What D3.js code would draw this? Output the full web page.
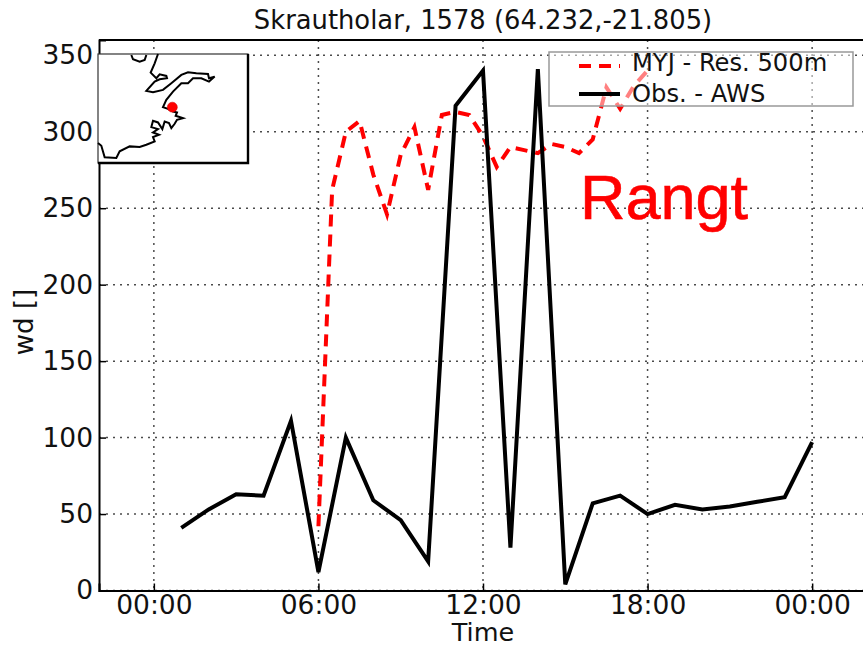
<!DOCTYPE html>
<html>
<head>
<meta charset="utf-8">
<script src="https://d3js.org/d3.v7.min.js"></script>
<style>
  html, body { margin: 0; padding: 0; background: #fff; overflow: hidden; }
  text { font-family: "DejaVu Sans", sans-serif; fill: #111; }
  .grid line { stroke: #000; stroke-width: 1.5; stroke-dasharray: 2 5; opacity: 0.7; }
</style>
</head>
<body>
<div id="graph"></div>
<script>
//************ data ************//
// hours since midnight, observed wind direction
var obsHours = [1,2,3,4,5,6,7,8,9,10,11,12,13,14,15,16,17,18,19,20,21,22,23,24];
var obsValues = [41,53,63,62,111,12,100,59,46,19,317,340,28,341,4,57,62,50,56,53,55,58,61,97];

// model run, half hourly
var modelHours = [6,6.5,7,7.5,8,8.5,9,9.5,10,10.5,11,11.5,12,12.5,13,13.5,14,14.5,15,15.5,16,16.5,17,17.5,18];
var modelValues = [42,262,300,307,272,246,285,303,262,311,313,311,297,277,290,288,286,292,290,286,295,329,315,330,340];

var xTicks = [0,6,12,18,24];
var xTickLabels = ["00:00","06:00","12:00","18:00","00:00"];
var yTicks = [0,50,100,150,200,250,300,350];

// coastline for the little map, in map units
var coastTop = [[100,3],[105,16],[125,23],[140,18],[145,3]];
var coastMain = [[180,0],[170,28],[158,56],[175,73],[185,61],[205,66],[207,73],[185,76],[170,83],[145,111],[165,115],[195,108],[220,88],[250,63],[270,55],[295,58],[330,60],[333,73],[350,68],[333,83],[310,73],[285,73],[270,88],[250,88],[225,113],[205,138],[195,160],[210,165],[225,173],[237,176],[233,186],[255,193],[237,198],[230,210],[220,223],[213,208],[200,203],[193,226],[180,206],[165,201],[160,220],[180,226],[165,236],[183,243],[165,250],[170,263],[145,273],[125,280],[95,278],[65,293],[55,313],[20,311],[10,276],[0,268]];
var station = [223,160];

//************ layout ************//
var width = 863, height = 645;
var margin = {top: 40, left: 99, bottom: 590.5, right: 867};

var svg = d3.select('#graph').append('svg')
    .attr('width', width).attr('height', height)
    .style('display', 'block');

var x = d3.scaleLinear().domain([-2,26]).range([margin.left, margin.right]);
var y = d3.scaleLinear().domain([0,360]).range([margin.bottom, margin.top]);

// grid
var grid = svg.append('g').attr('class', 'grid');
grid.selectAll('.gx').data(xTicks).enter().append('line')
    .attr('x1', function(d) { return x(d); }).attr('x2', function(d) { return x(d); })
    .attr('y1', margin.top).attr('y2', margin.bottom);
grid.selectAll('.gy').data(yTicks).enter().append('line')
    .attr('y1', function(d) { return y(d); }).attr('y2', function(d) { return y(d); })
    .attr('x1', margin.left).attr('x2', margin.right);

// lines
var lineFn = function(xs) {
  return d3.line().x(function(d, i) { return x(xs[i]); }).y(function(d) { return y(d); });
};

svg.append('path').datum(modelValues)
    .attr('d', lineFn(modelHours))
    .attr('fill', 'none').attr('stroke', '#ff0000')
    .attr('stroke-width', 4).attr('stroke-dasharray', '12 8');

svg.append('path').datum(obsValues)
    .attr('d', lineFn(obsHours))
    .attr('fill', 'none').attr('stroke', '#000')
    .attr('stroke-width', 4).attr('stroke-linejoin', 'miter');

// axes
var xAxis = d3.axisBottom(x).tickValues(xTicks)
    .tickFormat(function(d, i) { return xTickLabels[i]; })
    .tickSize(-7).tickPadding(5);
var yAxis = d3.axisLeft(y).tickValues(yTicks).tickSize(-7).tickPadding(6);

var gx = svg.append('g').attr('transform', 'translate(0,' + margin.bottom + ')').call(xAxis);
var gy = svg.append('g').attr('transform', 'translate(' + margin.left + ',0)').call(yAxis);
gx.selectAll('text').style('font-size', '26.5px').attr('fill', '#111');
gy.selectAll('text').style('font-size', '26.5px').attr('fill', '#111');
gx.selectAll('line').attr('stroke-width', 1.5);
gy.selectAll('line').attr('stroke-width', 1.5);
gx.select('.domain').attr('stroke-width', 2);
gy.select('.domain').attr('stroke-width', 2);

// top spine
svg.append('line').attr('x1', margin.left).attr('x2', margin.right)
    .attr('y1', margin.top).attr('y2', margin.top)
    .attr('stroke', '#000').attr('stroke-width', 2);

// titles
svg.append('text').attr('x', 483).attr('y', 29).attr('text-anchor', 'middle')
    .style('font-size', '25.8px').text('Skrautholar, 1578 (64.232,-21.805)');
svg.append('text').attr('x', 483).attr('y', 641).attr('text-anchor', 'middle')
    .style('font-size', '25.5px').text('Time');
svg.append('text').attr('transform', 'translate(33,322) rotate(-90)').attr('text-anchor', 'middle')
    .style('font-size', '26px').text('wd []');

// legend - half see through, the lines show under it
var legend = svg.append('g');
legend.append('rect').attr('x', 549).attr('y', 52).attr('width', 304).attr('height', 54)
    .attr('fill', '#fff').attr('fill-opacity', 0.5).attr('stroke', '#999').attr('stroke-width', 1.5);
legend.append('line').attr('x1', 579).attr('x2', 620).attr('y1', 66).attr('y2', 66)
    .attr('stroke', '#ff0000').attr('stroke-width', 4).attr('stroke-dasharray', '12 8');
legend.append('line').attr('x1', 579).attr('x2', 620).attr('y1', 94).attr('y2', 94)
    .attr('stroke', '#000').attr('stroke-width', 4);
legend.append('text').attr('x', 632).attr('y', 71).style('font-size', '24.2px').text('MYJ - Res. 500m');
legend.append('text').attr('x', 632).attr('y', 102).style('font-size', '24.2px').text('Obs. - AWS');

// stamp over the chart
svg.append('text').attr('x', 580).attr('y', 219)
    .style('font-family', '"Liberation Sans", Arial, sans-serif')
    .style('font-size', '63px').style('fill', '#ff0000')
    .style('stroke', '#ff0000').style('stroke-width', 0.6).text('Rangt');

// little map
var mapX = d3.scaleLinear().domain([0,450]).range([98,248]);
var mapY = d3.scaleLinear().domain([0,328]).range([54,163]);
var coastLine = d3.line().x(function(d) { return mapX(d[0]); }).y(function(d) { return mapY(d[1]); });

var map = svg.append('g');
map.append('rect').attr('x', mapX(0)).attr('y', mapY(0))
    .attr('width', mapX(450) - mapX(0)).attr('height', mapY(328) - mapY(0))
    .attr('fill', '#fff').attr('stroke', '#333').attr('stroke-width', 1.2);
map.append('path').attr('d', 'M' + mapX(450) + ',' + mapY(0) + 'V' + mapY(328) + 'H' + mapX(0))
    .attr('fill', 'none').attr('stroke', '#000').attr('stroke-width', 2.4);
[coastTop, coastMain].forEach(function(c) {
  map.append('path').attr('d', coastLine(c))
      .attr('fill', 'none').attr('stroke', '#000').attr('stroke-width', 2);
});
map.append('circle').attr('cx', mapX(station[0])).attr('cy', mapY(station[1])).attr('r', 5)
    .attr('fill', '#ff0000').attr('stroke', '#c00').attr('stroke-width', 0.5);
</script>
</body>
</html>
